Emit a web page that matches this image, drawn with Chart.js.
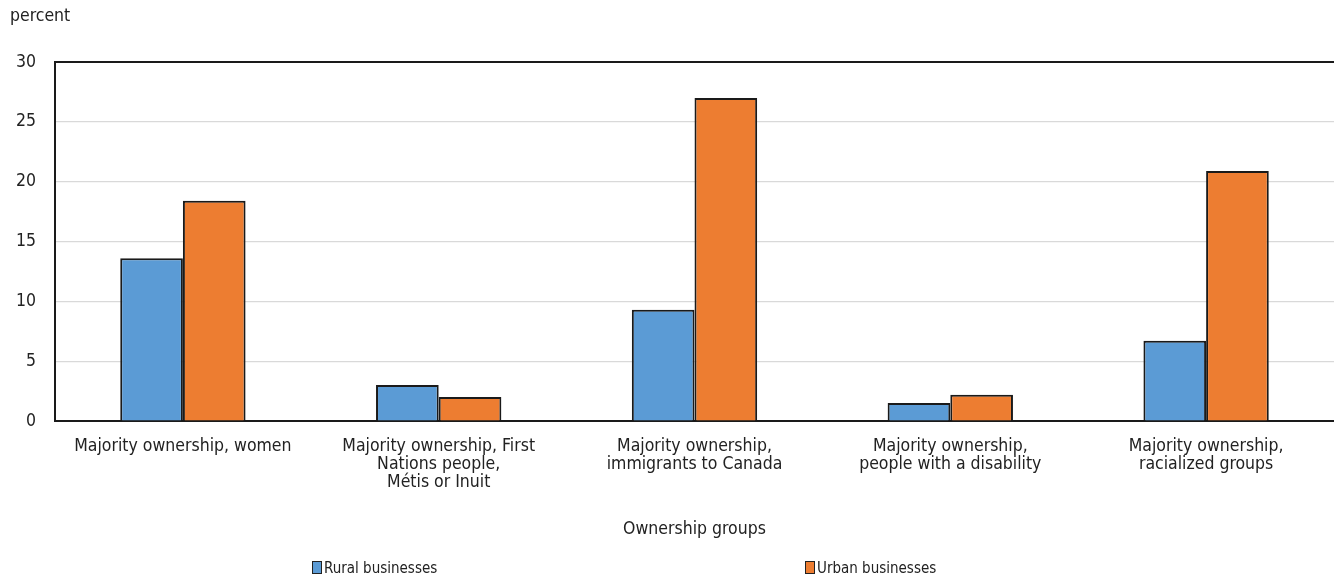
<!DOCTYPE html>
<html>
<head>
<meta charset="utf-8">
<script src="https://cdn.jsdelivr.net/npm/chart.js@4/dist/chart.umd.min.js"></script>
<style>
    body { margin: 0; background: #fff; font-family: "DejaVu Sans Condensed", "Liberation Sans Narrow", sans-serif; color: #222; }
    .wrap { position: relative; width: 1334px; height: 577px; }
    .unit { position: absolute; left: 10px; top: 5px; font-size: 17.5px; }
    .legend { position: absolute; top: 559px; font-size: 15px; line-height: 18px; }
    .legend span.box { display: inline-block; width: 8px; height: 11px; border: 1px solid #222; margin-right: 2px; vertical-align: -1px; }
</style>
</head>
<body>
<div class="wrap">
    <canvas id="groups" width="1334" height="577"></canvas>
    <div class="unit">percent</div>
    <div class="legend" id="legend-rural" style="left:312px"></div>
    <div class="legend" id="legend-urban" style="left:805px"></div>
</div>
<script>
let categories = [
        ['Majority ownership, women'],
        ['Majority ownership, First', 'Nations people,', 'Métis or Inuit'],
        ['Majority ownership,', 'immigrants to Canada'],
        ['Majority ownership,', 'people with a disability'],
        ['Majority ownership,', 'racialized groups']
    ],
    rural = [13.6, 3.0, 9.3, 1.5, 6.7],
    urban = [18.4, 2.0, 27.0, 2.2, 20.9],
    yTicks = [0, 5, 10, 15, 20, 25, 30],
    seriesNames = ['Rural businesses', 'Urban businesses'],
    seriesColors = ['#5b9bd5', '#ed7d31'];

let textColor = '#222',
    font = { family: '"DejaVu Sans Condensed", "Liberation Sans Narrow", sans-serif', size: 17.5, lineHeight: 1.03 };

document.addEventListener('DOMContentLoaded', () => {
    let chart = new Chart(
        document.getElementById('groups'),
        {
            type: 'bar',
            data: {
                labels: categories,
                datasets: [
                    {
                        label: seriesNames[0],
                        data: rural,
                        backgroundColor: seriesColors[0],
                        borderColor: '#1a1a1a',
                        borderWidth: 2,
                        categoryPercentage: 0.49,
                        barPercentage: 1.0
                    },
                    {
                        label: seriesNames[1],
                        data: urban,
                        backgroundColor: seriesColors[1],
                        borderColor: '#1a1a1a',
                        borderWidth: 2,
                        categoryPercentage: 0.49,
                        barPercentage: 1.0
                    }
                ]
            },
            options: {
                responsive: false,
                animation: false,
                layout: {
                    padding: { top: 62, left: 0, right: 0, bottom: 37 }
                },
                plugins: {
                    legend: { display: false },
                    tooltip: { enabled: false }
                },
                scales: {
                    x: {
                        grid: { display: false, drawTicks: false },
                        border: { color: '#1a1a1a', width: 2 },
                        ticks: { color: textColor, font: font, padding: 16, maxRotation: 0, autoSkip: false },
                        title: {
                            display: true,
                            text: 'Ownership groups',
                            color: textColor,
                            font: { family: font.family, size: 17.5 },
                            padding: 0
                        },
                        afterFit: function (scale) { scale.height = 119; }
                    },
                    y: {
                        min: 0,
                        max: 30,
                        afterBuildTicks: function (scale) {
                            scale.ticks = yTicks.map(v => ({ value: v }));
                        },
                        grid: {
                            drawTicks: false,
                            color: ctx => ctx.tick && ctx.tick.value === 30 ? '#1a1a1a' : '#d9d9d9',
                            lineWidth: ctx => ctx.tick && ctx.tick.value === 30 ? 2 : 1.2
                        },
                        border: { color: '#1a1a1a', width: 2 },
                        ticks: { color: textColor, font: { family: font.family, size: 17.5 }, padding: 19 },
                        afterFit: function (scale) { scale.width = 55; }
                    }
                }
            }
        }
    );

    // legend entries built from the datasets
    ['legend-rural', 'legend-urban'].forEach((id, i) => {
        let ds = chart.data.datasets[i];
        document.getElementById(id).innerHTML =
            '<span class="box" style="background:' + ds.backgroundColor + '"></span>' + ds.label;
    });
});
</script>
</body>
</html>
